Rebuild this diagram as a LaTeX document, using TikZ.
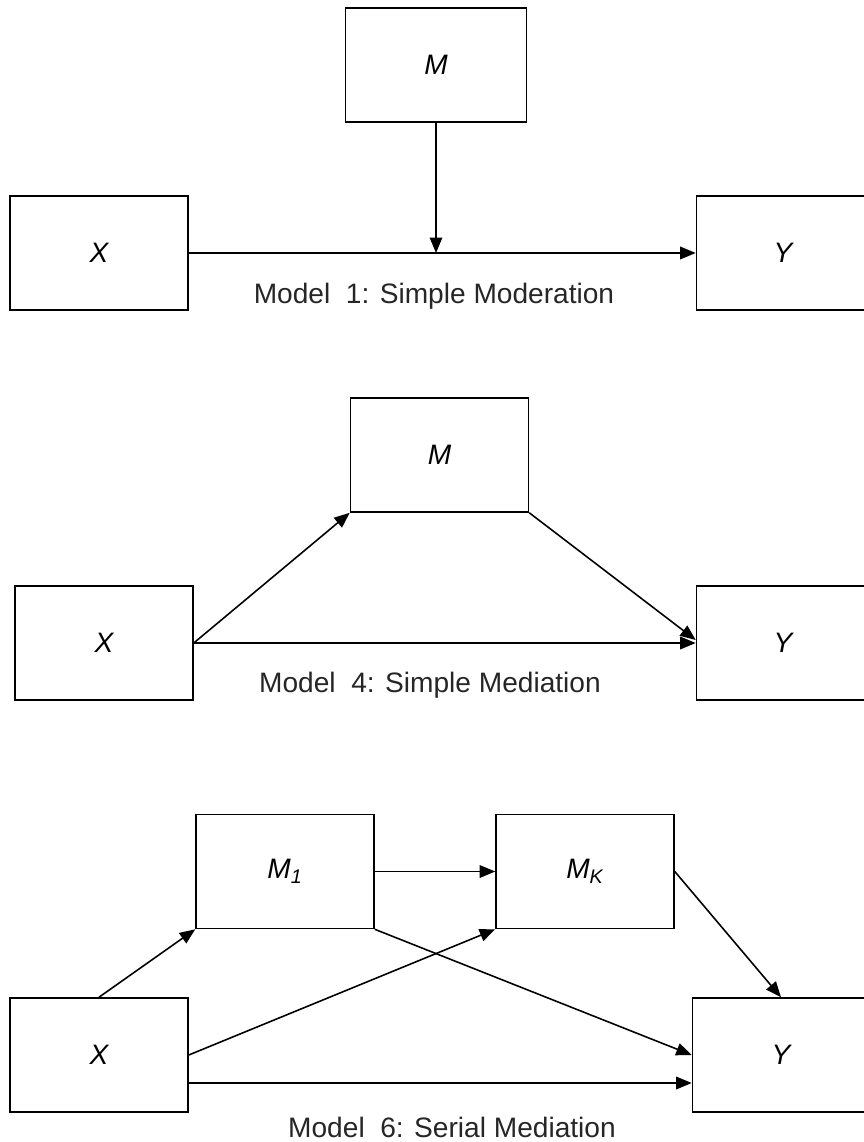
\documentclass[tikz,border=0pt]{standalone}
\usepackage{fontspec}
\setmainfont{Liberation Sans}
\usepackage{tikz}
\usetikzlibrary{arrows.meta, positioning, calc}

\begin{document}
\begin{tikzpicture}[
  x=0.02cm, y=-0.02cm,
  vbox/.style={draw, line width=0.9pt, minimum width=3.56cm, minimum height=2.28cm, inner sep=0pt, font=\fontsize{16}{18}\selectfont\itshape},
  mlabel/.style={inner sep=0pt, text=black!85, font=\fontsize{16}{18}\selectfont},
  path/.style={line width=0.9pt, -{Triangle[length=3.1mm, width=2.5mm]}}
]
  \useasboundingbox (0,0) rectangle (864,1142);

  % Model 1
  \node[vbox, minimum width=3.62cm] (m1) at (436,65) {M};
  \node[vbox] (x1) at (99,253) {X};
  \node[vbox, minimum width=3.46cm] (y1) at (783,253) {Y};
  \coordinate (j1) at (m1.south |- x1.east);
  \draw[path] (x1.east) -- (y1.west);
  \draw[path] (m1.south) -- (j1);
  \node[mlabel] (lab1) at (434,296) {Model\ \ 1: Simple Moderation};

  % Model 4
  \node[vbox] (m4) at (439.5,455) {M};
  \node[vbox] (x4) at (104,643) {X};
  \node[vbox, minimum width=3.46cm] (y4) at (783,643) {Y};
  \draw[path] (x4.east) -- (m4.south west);
  \draw[path] (m4.south east) -- ([yshift=0.06cm]y4.west);
  \draw[path] (x4.east) -- (y4.west);
  \node[mlabel] (lab4) at (430,685) {Model\ \ 4: Simple Mediation};

  % Model 6
  \node[vbox] (m61) at (285,871.5) {M\textsubscript{1}};
  \node[vbox] (m6k) at (585,871.5) {M\textsubscript{K}};
  \node[vbox] (x6) at (99,1055) {X};
  \node[vbox, minimum width=3.54cm] (y6) at (781,1055) {Y};
  \draw[path] (m61.east) -- (m6k.west);
  \draw[path] (x6.north) -- (m61.south west);
  \draw[path] (x6.east) -- (m6k.south west);
  \draw[path] (m61.south east) -- (y6.west);
  \draw[path] (m6k.east) -- (y6.north);
  \draw[path] ([yshift=-0.56cm]x6.east) -- ([yshift=-0.56cm]y6.west);
  \node[mlabel] (lab6) at (452,1127) {Model\ \ 6: Serial Mediation};
\end{tikzpicture}
\end{document}
